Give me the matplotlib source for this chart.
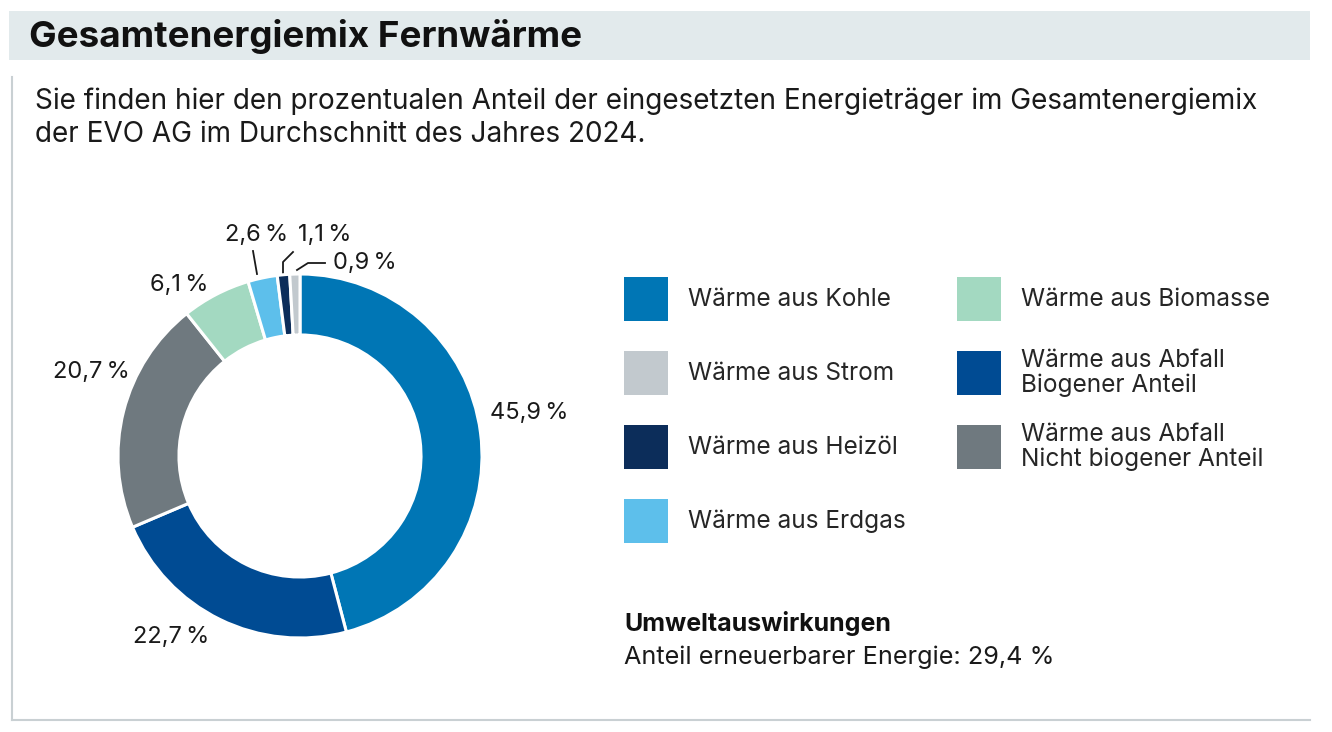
import matplotlib
matplotlib.use("Agg")
import matplotlib.pyplot as plt
from matplotlib.patches import Rectangle

# Data: Gesamtenergiemix Fernwaerme 2024 (EVO AG)
sources = ["Wärme aus Kohle", "Wärme aus Abfall\nBiogener Anteil",
           "Wärme aus Abfall\nNicht biogener Anteil", "Wärme aus Biomasse",
           "Wärme aus Erdgas", "Wärme aus Heizöl", "Wärme aus Strom"]
shares = [45.9, 22.7, 20.7, 6.1, 2.6, 1.1, 0.9]
colors = ["#0076b5", "#004b93", "#6f797f", "#a3d9c1", "#5dbfeb", "#0c2d5a", "#c2c9ce"]
legend_order = [0, 6, 5, 4, 3, 1, 2]
renewable = 29.4

W, H = 1332, 732
plt.rcParams['font.family'] = ['Inter', 'DejaVu Sans']
txt = "#1a1a1a"

def pct(v):
    return f"{v:.1f}".replace(".", ",") + "\u2009%"

fig = plt.figure(figsize=(W / 100, H / 100), dpi=100)
bg = fig.add_axes([0, 0, 1, 1])
bg.set_xlim(0, W)
bg.set_ylim(H, 0)
bg.axis("off")

# header band + frame lines
bg.add_patch(Rectangle((9, 11), 1301, 49, color="#e2eaec", lw=0))
bg.plot([12, 12], [77, 720], color="#c9d0d3", lw=1.5)
bg.plot([12, 1310], [720, 720], color="#c9d0d3", lw=1.5)

bg.text(29, 36, "Gesamtenergiemix Fernwärme", fontsize=26.5, fontweight="bold",
        color="#111111", va="center")
bg.text(35, 101, "Sie finden hier den prozentualen Anteil der eingesetzten Energieträger im Gesamtenergiemix",
        fontsize=20.1, color=txt, va="center")
bg.text(35, 134, "der EVO AG im Durchschnitt des Jahres 2024.",
        fontsize=20.1, color=txt, va="center")

# donut
cx, cy, r = 300, 456, 182
pie_ax = fig.add_axes([(cx - r) / W, 1 - (cy + r) / H, 2 * r / W, 2 * r / H])
pie_ax.pie(shares, colors=colors, startangle=90, counterclock=False, radius=1,
           wedgeprops=dict(width=0.335, edgecolor="white", linewidth=2.2))
pie_ax.set_xlim(-1, 1)
pie_ax.set_ylim(-1, 1)
pie_ax.set_aspect("equal")
pie_ax.axis("off")

# percentage labels (layout positions in pixels)
label_pos = [(490, 413), (133, 637), (53, 372), (150, 285), (225, 235), (298, 235), (333, 263)]
for val, (x, y) in zip(shares, label_pos):
    bg.text(x, y, pct(val), fontsize=17, color=txt, va="center")

# leader lines for small slices
bg.plot([253, 257], [251, 274], color=txt, lw=1.3)
bg.plot([283, 283, 293], [273, 262, 252], color=txt, lw=1.3)
bg.plot([297, 308, 325], [270, 263, 263], color=txt, lw=1.3)

# legend, two columns
col_x = [624, 957]
row_y = [277, 351, 425, 499]
for k, idx in enumerate(legend_order):
    col = 0 if k < 4 else 1
    row = k if k < 4 else k - 4
    x, y = col_x[col], row_y[row]
    bg.add_patch(Rectangle((x, y), 44, 44, color=colors[idx], lw=0))
    bg.text(x + 64, y + 22, sources[idx], fontsize=17.6, color="#262626", va="center",
            linespacing=1.1)

bg.text(624, 623, "Umweltauswirkungen", fontsize=18, fontweight="bold", color="#111111", va="center")
bg.text(624, 657, "Anteil erneuerbarer Energie: " + f"{renewable:.1f}".replace(".", ",") + " %",
        fontsize=18.2, color=txt, va="center")

fig.savefig("out.png", dpi=100, facecolor="white")
